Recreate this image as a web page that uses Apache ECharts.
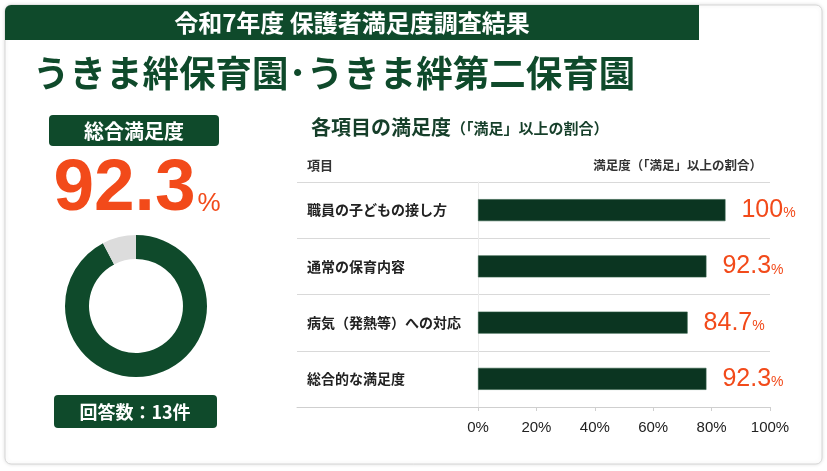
<!DOCTYPE html>
<html><head><meta charset="utf-8">
<script src="https://cdn.jsdelivr.net/npm/echarts@6/dist/echarts.min.js"></script>
<style>html,body{margin:0;padding:0;background:#fff;}#c{width:827px;height:471px;}</style>
</head><body><div id="c"></div>
<script>
// ---- data ----
const headerTitle = '令和7年度 保護者満足度調査結果';
const mainTitle = 'うきま絆保育園･うきま絆第二保育園';
const overallLabel = '総合満足度';
const overallValue = 92.3;
const responseCount = 13;
const sectionTitle = '各項目の満足度';
const sectionSub = '（「満足」以上の割合）';
const colHeadLeft = '項目';
const colHeadRight = '満足度（「満足」以上の割合）';
const categories = ['職員の子どもの接し方', '通常の保育内容', '病気（発熱等）への対応', '総合的な満足度'];
const values = [100, 92.3, 84.7, 92.3];
const tickLabels = ['0%', '20%', '40%', '60%', '80%', '100%'];

// ---- style ----
const GREEN = '#0f4a2b';
const BAR = '#0b3521';
const ORANGE = '#f24a1a';
const CJK = '"Noto Sans CJK JP", "Noto Sans", sans-serif';
const NUM = '"Liberation Sans", Arial, sans-serif';

const chart = echarts.init(document.getElementById('c'));
chart.setOption({
  animation: false,
  grid: [
    { left: 478, top: 182, width: 292, height: 225 },
    { left: 297, top: 182, width: 181, height: 225 }
  ],
  xAxis: [
    { gridIndex: 0, type: 'value', min: 0, max: 100, interval: 20,
      axisLine: { show: true, lineStyle: { color: '#cfcfcf' } },
      axisTick: { show: true, length: 4, lineStyle: { color: '#cfcfcf' } },
      splitLine: { show: false },
      axisLabel: { margin: 13, color: '#222', fontFamily: NUM, fontSize: 15,
        formatter: (v) => tickLabels[Math.round(v / 20)] } },
    { gridIndex: 1, type: 'value', min: 0, max: 1,
      axisLine: { show: true, lineStyle: { color: '#cfcfcf' } },
      axisTick: { show: false }, axisLabel: { show: false }, splitLine: { show: false } },
    { gridIndex: 0, type: 'value', min: 0, max: 118, show: false, splitLine: { show: false } }
  ],
  yAxis: [
    { gridIndex: 0, type: 'category', data: categories, inverse: true,
      axisLine: { show: true, lineStyle: { color: '#ececec' } },
      axisTick: { show: false },
      splitLine: { show: true, lineStyle: { color: '#d9d9d9' } },
      axisLabel: { margin: 171, align: 'left', color: '#222', fontFamily: CJK,
        fontSize: 14, fontWeight: 'bold' } },
    { gridIndex: 1, type: 'category', data: categories, inverse: true,
      axisLine: { show: false }, axisTick: { show: false }, axisLabel: { show: false },
      splitLine: { show: true, lineStyle: { color: '#d9d9d9' } } }
  ],
  series: [
    { type: 'bar', xAxisIndex: 2, yAxisIndex: 0, data: values, barWidth: 22,
      itemStyle: { color: BAR, borderColor: '#2f5c44', borderWidth: 0.6 },
      label: { show: true, position: 'right', distance: 16,
        formatter: (p) => '{v|' + p.value + '}{p|%}',
        rich: {
          v: { fontFamily: NUM, fontSize: 25, color: ORANGE, verticalAlign: 'bottom' },
          p: { fontFamily: NUM, fontSize: 14, color: ORANGE, verticalAlign: 'bottom', padding: [0, 0, 2, 0] }
        } },
      silent: true },
    { type: 'pie', center: [136, 306], radius: [47, 71], startAngle: 90, clockwise: true,
      silent: true, label: { show: false }, labelLine: { show: false },
      data: [
        { value: overallValue, itemStyle: { color: GREEN } },
        { value: 100 - overallValue, itemStyle: { color: '#dcdcdc' } }
      ] }
  ],
  graphic: [
    { type: 'rect', z: -10, shape: { x: 5, y: 5, width: 817, height: 459, r: 6 },
      style: { fill: '#fff', stroke: '#d6d6d6', lineWidth: 1,
        shadowBlur: 4, shadowColor: 'rgba(0,0,0,0.12)' } },
    { type: 'rect', z: -5, shape: { x: 5, y: 5, width: 694, height: 35, r: [6, 0, 0, 0] },
      style: { fill: GREEN } },
    { type: 'text', x: 352, y: 23, style: { text: headerTitle, fill: '#fff',
      font: 'bold 24px ' + CJK, textAlign: 'center', textVerticalAlign: 'middle' } },
    { type: 'text', x: 33, y: 73, style: { text: mainTitle, fill: GREEN,
      font: 'bold 36.5px ' + CJK, textAlign: 'left', textVerticalAlign: 'middle' } },
    // left panel
    { type: 'rect', shape: { x: 49, y: 115, width: 170, height: 31, r: 4 }, style: { fill: GREEN } },
    { type: 'text', x: 134, y: 131, style: { text: overallLabel, fill: '#fff',
      font: 'bold 20px ' + CJK, textAlign: 'center', textVerticalAlign: 'middle' } },
    { type: 'text', x: 137, y: 190, style: {
      text: '{a|' + overallValue + '}{b|%}', textAlign: 'center', textVerticalAlign: 'middle',
      rich: {
        a: { fontFamily: NUM, fontWeight: 'bold', fontSize: 73, fill: ORANGE, verticalAlign: 'bottom' },
        b: { fontFamily: NUM, fontSize: 26, fill: ORANGE, verticalAlign: 'bottom', padding: [0, 0, 10, 2] }
      } } },
    { type: 'rect', shape: { x: 54, y: 395, width: 163, height: 33, r: 4 }, style: { fill: GREEN } },
    { type: 'text', x: 135, y: 412, style: { text: '回答数：' + responseCount + '件', fill: '#fff',
      font: 'bold 18px ' + CJK, textAlign: 'center', textVerticalAlign: 'middle' } },
    // right panel headings
    { type: 'text', x: 311, y: 127, style: {
      text: '{a|' + sectionTitle + '}{b|' + sectionSub + '}', textVerticalAlign: 'middle',
      rich: {
        a: { fontFamily: CJK, fontWeight: 'bold', fontSize: 20, fill: '#163f2a', verticalAlign: 'bottom' },
        b: { fontFamily: CJK, fontWeight: 'bold', fontSize: 15, fill: '#163f2a', verticalAlign: 'bottom', padding: [0, 0, 1, 0] }
      } } },
    { type: 'text', x: 307, y: 165, style: { text: colHeadLeft, fill: '#333',
      font: 'bold 13px ' + CJK, textVerticalAlign: 'middle' } },
    { type: 'text', x: 762, y: 165, style: { text: colHeadRight, fill: '#333',
      font: 'bold 12.5px ' + CJK, textAlign: 'right', textVerticalAlign: 'middle' } }
  ]
});
</script>
</body></html>
